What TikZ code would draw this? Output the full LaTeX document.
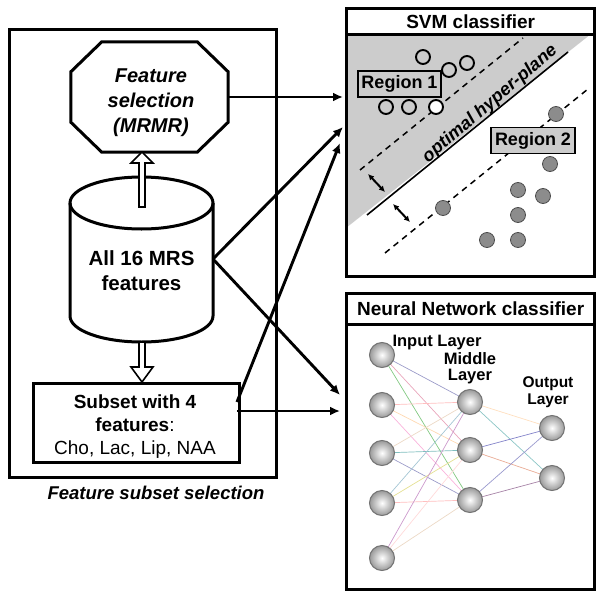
\documentclass[tikz,border=0pt]{standalone}
\usepackage{fontspec}
\setmainfont{Liberation Sans}
\usetikzlibrary{arrows.meta,calc}
\begin{document}
\begin{tikzpicture}[x=1pt,y=-1pt,
  frame/.style={draw,line width=3.4pt},
  conn/.style={line width=2.9pt,-{Latex[length=10pt,width=9pt]}},
  hollow/.style={draw,fill=white,line width=1.6pt,line join=miter},
  bigtxt/.style={font=\bfseries\fontsize{20.5}{25}\selectfont,align=center},
  open/.style={circle,draw,line width=1.9pt,minimum size=14pt,inner sep=0pt},
  dot/.style={circle,draw=black!70,line width=0.8pt,fill=black!45,minimum size=15pt,inner sep=0pt},
  region/.style={draw,line width=1.4pt,fill=black!20,font=\bfseries\fontsize{18}{20}\selectfont,inner sep=0pt,minimum height=26pt},
  neuron/.style={circle,draw=black!55,line width=1pt,inner color=white,outer color=black!40,minimum size=25pt,inner sep=0pt},
  nnlbl/.style={font=\bfseries\fontsize{16.5}{15.5}\selectfont,align=center},
  edge/.style={line width=0.7pt}
]
\useasboundingbox (0,0) rectangle (600,597);
% left outer frame
\node[frame,minimum width=267pt,minimum height=448pt,anchor=north west] (left) at (8,28) {};
\node[font=\bfseries\itshape\fontsize{18.5}{22}\selectfont] (cap) at (156,493) {Feature subset selection};
% octagon
\node[minimum width=157pt,minimum height=110pt,inner sep=0pt] (fs) at (149.5,97) {};
\draw[line width=3pt,line join=miter] ($(fs.north west)+(31,0)$) -- ($(fs.north east)+(-31,0)$) -- ($(fs.north east)+(0,30)$)
  -- ($(fs.south east)+(0,-30)$) -- ($(fs.south east)+(-31,0)$) -- ($(fs.south west)+(31,0)$)
  -- ($(fs.south west)+(0,-30)$) -- ($(fs.north west)+(0,30)$) -- cycle;
\node[font=\bfseries\itshape\fontsize{20}{25}\selectfont,align=center] (fstxt) at (151,103) {Feature\\selection\\(MRMR)};
% cylinder
\draw[line width=3pt,fill=white] (70,203) -- (70,316) arc[start angle=180,end angle=360,x radius=71.5pt,y radius=26pt] -- (213,203);
\draw[line width=3pt] (141.5,203) ellipse[x radius=71.5pt,y radius=26pt];
\node[bigtxt] (db) at (141.5,271) {All 16 MRS\\features};
\coordinate (dbr) at (213,259);
% subset box
\node[draw,line width=3pt,minimum width=206pt,minimum height=79pt,anchor=north west,inner sep=0pt] (sub) at (32,382) {};
\node[align=center,font=\fontsize{19}{23}\selectfont] (subtxt) at (135,427) {\textbf{Subset with 4}\\\textbf{features}:\\Cho, Lac, Lip, NAA};
% hollow arrows
\coordinate (uptip) at (142,152);
\coordinate (dntip) at (142,382);
\draw[hollow] (uptip) -- ++(11,11) -- ++(-8,0) -- ++(0,44) -- ++(-6,0) -- ++(0,-44) -- ++(-8,0) -- cycle;
\draw[hollow] (dntip) -- ++(11,-15) -- ++(-8,0) -- ++(0,-25) -- ++(-6,0) -- ++(0,25) -- ++(-8,0) -- cycle;
% SVM box
\fill[black!20] (346,34) -- (591,34) -- (346,228) -- cycle;
\node[frame,minimum width=248pt,minimum height=26pt,anchor=north west,inner sep=0pt,
  font=\bfseries\fontsize{19}{22}\selectfont] (svmt) at (345,7) {SVM classifier};
\node[frame,minimum width=248pt,minimum height=242pt,anchor=north west,inner sep=0pt] (svm) at (345,33) {};
\draw[line width=1.6pt] (367,215) -- (568,52);
\draw[line width=1.5pt,dash pattern=on 6pt off 5pt] (360,170) -- (523,38);
\draw[line width=1.5pt,dash pattern=on 6pt off 5pt] (385,253) -- (588,89);
\draw[line width=2pt,{Latex[length=6pt,width=6pt]}-{Latex[length=6pt,width=6pt]}] (368,174) -- (385,192);
\draw[line width=2pt,{Latex[length=6pt,width=6pt]}-{Latex[length=6pt,width=6pt]}] (393,204) -- (410,222);
\node[rotate=40.5,font=\bfseries\itshape\fontsize{18}{20}\selectfont,inner sep=0pt] (hp) at (490,104) {optimal hyper-plane};
\foreach \p/\n in {(423,57)/a,(449,70)/b,(467,63)/c,(386,107)/d,(409,107)/e}
  \node[open] (o\n) at \p {};
\node[open,fill=white] (of) at (436,107) {};
\node[region,minimum width=83pt] (r1) at (399.5,84) {Region 1};
\node[region,minimum width=84pt] (r2) at (533,140.5) {Region 2};
\foreach \p/\n in {(556,114)/a,(550,164)/b,(518,190)/c,(543,196)/d,(518,215)/e,(443,208)/f,(487,240)/g,(518,240)/h}
  \node[dot] (g\n) at \p {};
% NN box
\node[frame,minimum width=248pt,minimum height=31pt,anchor=north west,inner sep=0pt,
  font=\bfseries\fontsize{19}{22}\selectfont] (nnt) at (345,292) {Neural Network classifier};
\node[frame,minimum width=248pt,minimum height=265pt,anchor=north west,inner sep=0pt] (nn) at (345,323) {};
\foreach \y [count=\i] in {355,405,453,503,558} \coordinate (I\i) at (382,\y);
\foreach \y [count=\i] in {402,450,500} \coordinate (M\i) at (470,\y);
\foreach \y [count=\i] in {428,478} \coordinate (O\i) at (552,\y);
\def\cols{{"orange!30","cyan!40!gray!60","green!40!gray!70","teal!50","violet!40","magenta!30","yellow!60!gray!60","olive!40","blue!30!gray!60","pink!60","lime!50!gray!60","red!25","green!30!gray!60","purple!35","brown!30","cyan!30"}}
\foreach \i in {1,...,5}{
  \foreach \j in {1,...,3}{
    \pgfmathtruncatemacro\k{mod(\i*3+\j*5,16)}
    \pgfmathparse{\cols[\k]}\edef\cc{\pgfmathresult}
    \draw[edge,color=\cc] (I\i) -- (M\j);
  }}
\draw[edge,color=orange!25] (M1) -- (O1);
\draw[edge,color=teal!45] (M1) -- (O2);
\draw[edge,color=blue!40!gray!70] (M2) -- (O1);
\draw[edge,color=red!30!brown!50] (M2) -- (O2);
\draw[edge,color=blue!35!gray!60] (M3) -- (O1);
\draw[edge,color=violet!40!gray!70] (M3) -- (O2);
\foreach \n in {I1,I2,I3,I4,I5,M1,M2,M3,O1,O2}
  \node[neuron] (n\n) at (\n) {};
\node[nnlbl] (il) at (437,343) {Input Layer};
\node[nnlbl] (ml) at (470,368) {Middle\\Layer};
\node[nnlbl,font=\bfseries\fontsize{15.5}{17}\selectfont] (ol) at (548,392) {Output\\Layer};
% connectors
\coordinate (s1) at (343,97);
\coordinate (s2) at (343,127);
\coordinate (s3) at (340,143);
\coordinate (n1) at (340,395);
\coordinate (n2) at (340,411);
\coordinate (subA) at (237,402);
\coordinate (subB) at (237,411);
\draw[conn] (fs.east) -- (s1);
\draw[conn] (dbr) -- (s2);
\draw[conn] (subA) -- (s3);
\draw[conn] (dbr) -- (n1);
\draw[conn] (subB) -- (n2);
\end{tikzpicture}
\end{document}
